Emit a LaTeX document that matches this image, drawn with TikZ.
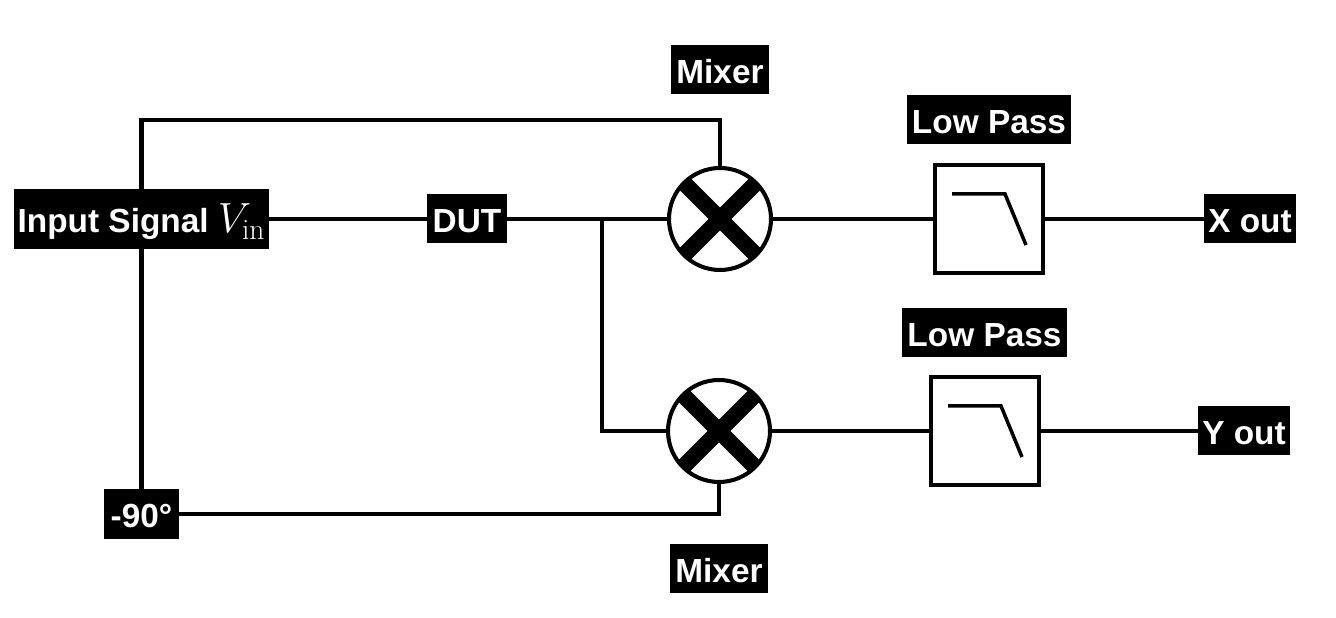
\RequirePackage{fix-cm}
\documentclass[tikz,border=0pt]{standalone}
\usepackage{fontspec}
\usepackage{amsmath}
\usetikzlibrary{calc}
\newfontfamily\labelfont{Liberation Sans}[Scale=1]
\tikzset{
  wire/.style={line width=2.3pt},
  blocklabel/.style={fill=black,text=white,inner sep=0pt,outer sep=0pt,minimum height=0.98cm,text height=0.55cm,text depth=0cm,font=\labelfont\fontsize{19}{22}\selectfont\bfseries},
  mixerdisc/.style={circle,draw,fill=white,line width=2.3pt,inner sep=0pt,outer sep=0pt,minimum size=2.04cm},
  filterbox/.style={rectangle,draw,fill=white,line width=2.3pt,inner sep=0pt,outer sep=0pt,minimum size=2.16cm}
}
\begin{document}
\begin{tikzpicture}[x=1cm,y=1cm]
      \useasboundingbox (0,0) rectangle (26.72,12.36);
      \node[blocklabel,minimum width=5.1cm,text height=0.88cm,text depth=0.32cm] (input) at (2.83,7.98) {Input Signal {\fontsize{24}{26}\selectfont$V_{\mathrm{in}}$}};
      \node[blocklabel,minimum width=1.6cm] (dut) at (9.34,7.98) {DUT};
      \node[blocklabel,minimum width=1.5cm,minimum height=1.0cm] (phase) at (2.83,2.08) {-90°};
      \node[mixerdisc] (mixtop) at (14.4,7.98) {};
      \node[mixerdisc] (mixbot) at (14.38,3.74) {};
      \node[blocklabel,minimum width=1.96cm] (mixtoplabel) at (14.4,10.97) {Mixer};
      \node[blocklabel,minimum width=1.96cm] (mixbotlabel) at (14.38,0.99) {Mixer};
      \node[filterbox] (lptop) at (19.78,7.98) {};
      \node[filterbox] (lpbot) at (19.7,3.74) {};
      \node[blocklabel,minimum width=3.28cm] (lptoplabel) at (19.78,9.97) {Low Pass};
      \node[blocklabel,minimum width=3.3cm] (lpbotlabel) at (19.69,5.71) {Low Pass};
      \node[blocklabel,minimum width=1.84cm] (xout) at (25.0,7.98) {X out};
      \node[blocklabel,minimum width=1.84cm] (yout) at (24.88,3.74) {Y out};
      \coordinate (topturn) at (10,9.96);
      \coordinate (branch) at (12.04,7.98);

      \draw[wire] (input.north) |- (topturn) -| (mixtop.north);
      \draw[wire] (input.south) -- (phase.north);
      \draw[wire] (input.east) -- (dut.west);
      \draw[wire] (dut.east) -- (mixtop.west);
      \draw[wire] (branch) |- (mixbot.west);
      \draw[wire] (phase.east) -| (mixbot.south);
      \draw[wire] (mixtop.east) -- (lptop.west);
      \draw[wire] (mixbot.east) -- (lpbot.west);
      \draw[wire] (lptop.east) -- (xout.west);
      \draw[wire] (lpbot.east) -- (yout.west);

      \foreach \mixer in {mixtop,mixbot} {
        \draw[line width=0.32cm] (\mixer.45) -- (\mixer.225);
        \draw[line width=0.32cm] (\mixer.135) -- (\mixer.315);
      }
      \foreach \filter in {lptop,lpbot} {
        \draw[line width=2pt] ($(\filter)+(-0.74,0.5)$) -- ($(\filter)+(0.32,0.5)$) -- ($(\filter)+(0.74,-0.52)$);
      }
\end{tikzpicture}
\end{document}
